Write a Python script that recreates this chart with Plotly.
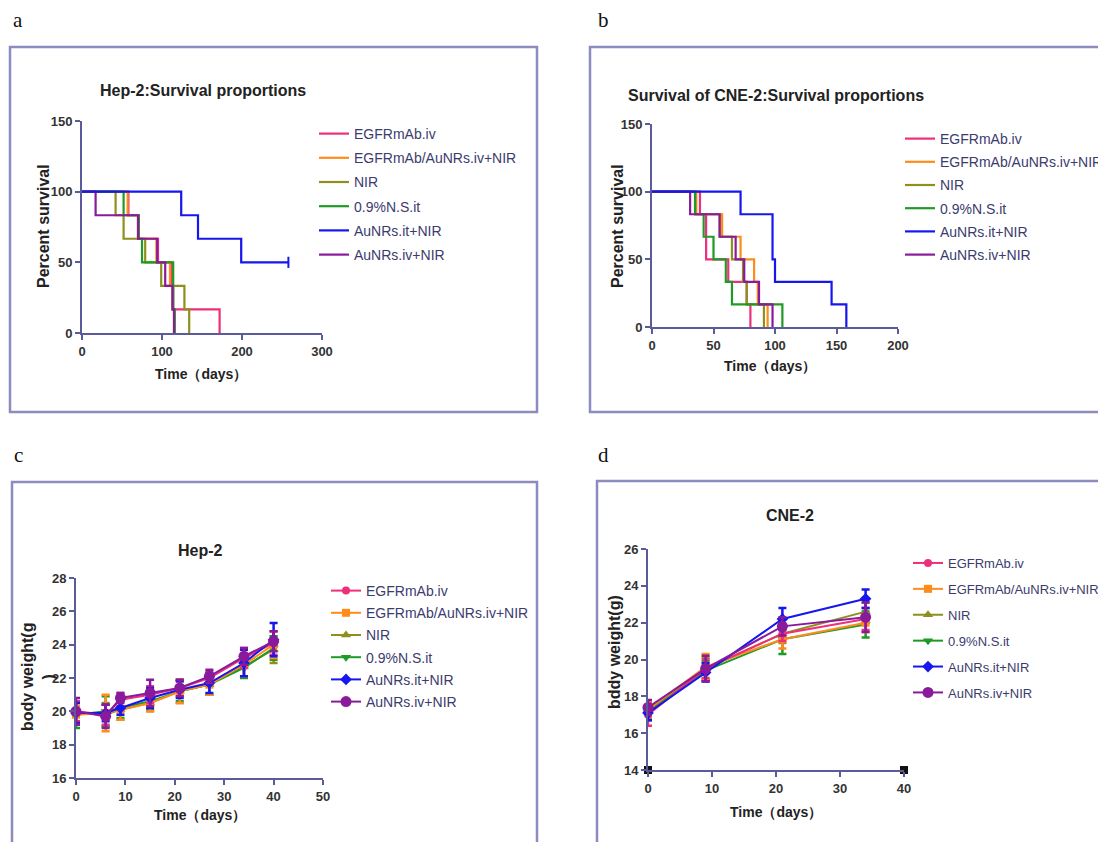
import plotly.graph_objects as go

# page body has an 8px margin, so the figure is made 8px smaller on each axis and
# all target pixel positions are shifted by that offset
OFF = 8
W, H = 1106 - OFF, 842 - OFF

GROUPS = ["EGFRmAb.iv", "EGFRmAb/AuNRs.iv+NIR", "NIR", "0.9%N.S.it", "AuNRs.it+NIR", "AuNRs.iv+NIR"]
COLORS = ["#ee2f7c", "#ff8c1a", "#8f8f1c", "#1f9a24", "#1616ee", "#8a1a9c"]
SYMBOLS = ["circle", "square", "triangle-up", "triangle-down", "diamond", "circle"]
MSIZES = [8, 8, 9, 9, 9, 11]

# ---------- Panel a: Hep-2 survival (days, percent) ----------
A_T_EGFR = [0, 58, 71, 95, 112, 114, 172]
A_S_EGFR = [100, 83.3, 66.7, 50, 33.3, 16.7, 0]
A_T_EGFRAU = [0, 57, 70, 93, 110, 113, 115]
A_S_EGFRAU = [100, 83.3, 66.7, 50, 33.3, 16.7, 0]
A_T_NIR = [0, 42, 52, 79, 99, 128, 134]
A_S_NIR = [100, 83.3, 66.7, 50, 33.3, 16.7, 0]
A_T_NS = [0, 52, 71, 75, 114, 116]
A_S_NS = [100, 83.3, 66.7, 50, 16.7, 0]
A_T_AUIT = [0, 124, 145, 199, 258]
A_S_AUIT = [100, 83.3, 66.7, 50, 50]
A_T_AUIV = [0, 17, 70, 94, 104, 113, 115]
A_S_AUIV = [100, 83.3, 66.7, 50, 33.3, 16.7, 0]

# ---------- Panel b: CNE-2 survival ----------
B_T_EGFR = [0, 39, 44, 62, 77, 80]
B_S_EGFR = [100, 83.3, 50, 33.3, 16.7, 0]
B_T_EGFRAU = [0, 36, 57, 72, 83, 86, 94]
B_S_EGFRAU = [100, 83.3, 66.7, 50, 33.3, 16.7, 0]
B_T_NIR = [0, 35, 55, 65, 74, 77, 91]
B_S_NIR = [100, 83.3, 66.7, 50, 33.3, 16.7, 0]
B_T_NS = [0, 35, 42, 50, 60, 65, 106]
B_S_NS = [100, 83.3, 66.7, 50, 33.3, 16.7, 0]
B_T_AUIT = [0, 72, 98, 100, 146, 158]
B_S_AUIT = [100, 83.3, 50, 33.3, 16.7, 0]
B_T_AUIV = [0, 31, 55, 68, 75, 87, 98]
B_S_AUIV = [100, 83.3, 66.7, 50, 33.3, 16.7, 0]

# ---------- Panel c: Hep-2 body weight ----------
C_DAYS = [0, 6, 9, 15, 21, 27, 34, 40]
C_EGFR = [20.0, 19.8, 20.7, 21.0, 21.4, 22.0, 23.2, 24.1]
C_EGFR_E = [0.6, 0.6, 0.4, 0.5, 0.5, 0.4, 0.6, 0.7]
C_EGFRAU = [19.8, 19.9, 20.1, 20.5, 21.2, 21.6, 22.8, 24.0]
C_EGFRAU_E = [0.5, 1.1, 0.6, 0.5, 0.7, 0.6, 0.7, 0.8]
C_NIR = [19.9, 19.8, 20.1, 20.5, 21.2, 21.6, 22.7, 23.7]
C_NIR_E = [0.6, 0.7, 0.6, 0.5, 0.7, 0.6, 0.6, 0.8]
C_NS = [19.8, 20.0, 20.2, 20.6, 21.2, 21.6, 22.6, 23.8]
C_NS_E = [0.8, 0.9, 0.6, 0.5, 0.6, 0.6, 0.6, 0.7]
C_AUIT = [19.9, 19.9, 20.2, 20.8, 21.3, 21.7, 22.9, 24.3]
C_AUIT_E = [0.6, 0.5, 0.4, 0.6, 0.5, 0.6, 0.8, 1.0]
C_AUIV = [20.0, 19.7, 20.8, 21.1, 21.4, 22.1, 23.3, 24.2]
C_AUIV_E = [0.8, 0.7, 0.3, 0.8, 0.5, 0.4, 0.5, 0.6]

# ---------- Panel d: CNE-2 body weight ----------
D_DAYS = [0, 9, 21, 34]
D_EGFR = [17.0, 19.5, 21.4, 22.2]
D_EGFR_E = [0.6, 0.5, 0.4, 0.6]
D_EGFRAU = [17.3, 19.6, 21.1, 22.0]
D_EGFRAU_E = [0.4, 0.7, 0.5, 0.5]
D_NIR = [17.2, 19.5, 21.4, 22.6]
D_NIR_E = [0.4, 0.6, 0.5, 0.5]
D_NS = [17.1, 19.4, 21.1, 21.9]
D_NS_E = [0.4, 0.5, 0.8, 0.7]
D_AUIT = [17.1, 19.3, 22.2, 23.3]
D_AUIT_E = [0.4, 0.5, 0.6, 0.5]
D_AUIV = [17.4, 19.5, 21.8, 22.3]
D_AUIV_E = [0.4, 0.7, 0.5, 0.8]
D_CORNER_X = [0, 40]
D_CORNER_Y = [14, 14]

A_T = [A_T_EGFR, A_T_EGFRAU, A_T_NIR, A_T_NS, A_T_AUIT, A_T_AUIV]
A_S = [A_S_EGFR, A_S_EGFRAU, A_S_NIR, A_S_NS, A_S_AUIT, A_S_AUIV]
B_T = [B_T_EGFR, B_T_EGFRAU, B_T_NIR, B_T_NS, B_T_AUIT, B_T_AUIV]
B_S = [B_S_EGFR, B_S_EGFRAU, B_S_NIR, B_S_NS, B_S_AUIT, B_S_AUIV]
C_Y = [C_EGFR, C_EGFRAU, C_NIR, C_NS, C_AUIT, C_AUIV]
C_E = [C_EGFR_E, C_EGFRAU_E, C_NIR_E, C_NS_E, C_AUIT_E, C_AUIV_E]
D_Y = [D_EGFR, D_EGFRAU, D_NIR, D_NS, D_AUIT, D_AUIV]
D_E = [D_EGFR_E, D_EGFRAU_E, D_NIR_E, D_NS_E, D_AUIT_E, D_AUIV_E]


def px(x):
    return (x - OFF) / W


def py(y):
    return 1 - (y - OFF) / H


NARROW = "Liberation Sans Narrow, Arial Narrow, Liberation Sans, Arial, sans-serif"
AXCOL = "#5b5b9c"
TXT = "#333333"
LEGTXT = "#3b3b6e"

fig = go.Figure()

# survival traces
order = [0, 1, 2, 3, 5, 4]
for panel, T, S, xa, ya, leg in [("a", A_T, A_S, "x", "y", "legend"), ("b", B_T, B_S, "x2", "y2", "legend2")]:
    for i in order:
        fig.add_trace(go.Scatter(
            x=T[i], y=S[i], mode="lines", line=dict(color=COLORS[i], width=2.2, shape="hv"),
            name=GROUPS[i], xaxis=xa, yaxis=ya, legend=leg, legendgroup=panel + str(i),
            legendrank=i + 1, cliponaxis=False))
# censor tick for AuNRs.it+NIR in panel a
fig.add_trace(go.Scatter(x=[A_T_AUIT[-1]], y=[A_S_AUIT[-1]], mode="markers",
                         marker=dict(symbol="line-ns-open", size=8, color=COLORS[4],
                                     line=dict(color=COLORS[4], width=2)),
                         xaxis="x", yaxis="y", showlegend=False, cliponaxis=False))

# body weight traces
for panel, X, Y, E, xa, ya, leg in [("c", C_DAYS, C_Y, C_E, "x3", "y3", "legend3"),
                                    ("d", D_DAYS, D_Y, D_E, "x4", "y4", "legend4")]:
    for i in [2, 3, 1, 0, 4, 5]:
        fig.add_trace(go.Scatter(
            x=X, y=Y[i], mode="lines+markers", name=GROUPS[i],
            line=dict(color=COLORS[i], width=2),
            marker=dict(symbol=SYMBOLS[i], size=MSIZES[i], color=COLORS[i]),
            error_y=dict(type="data", array=E[i], color=COLORS[i], thickness=2.5, width=4),
            xaxis=xa, yaxis=ya, legend=leg, legendgroup=panel + str(i), legendrank=i + 1,
            cliponaxis=False))

fig.add_trace(go.Scatter(x=D_CORNER_X, y=D_CORNER_Y, mode="markers",
                         marker=dict(symbol="square", size=8, color="#111111"),
                         xaxis="x4", yaxis="y4", showlegend=False, cliponaxis=False))


def axis(dom_px, rng, dtick, anchor, horizontal):
    if horizontal:
        dom = [px(dom_px[0]), px(dom_px[1])]
    else:
        dom = [py(dom_px[1]), py(dom_px[0])]
    return dict(domain=dom, range=rng, dtick=dtick, tick0=rng[0], anchor=anchor,
                showline=True, linecolor=AXCOL, linewidth=2, ticks="outside", ticklen=5,
                tickcolor=AXCOL, tickwidth=2, showgrid=False, zeroline=False,
                tickfont=dict(family=NARROW, size=13, color=TXT, weight="bold"),
                fixedrange=True, automargin=False)


def legend_at(x, y, gap, size=14):
    return dict(x=px(x), y=py(y), font=dict(family=NARROW, size=size, color=LEGTXT),
                bgcolor="rgba(0,0,0,0)", tracegroupgap=gap, xanchor="left", yanchor="top",
                itemwidth=30, traceorder="grouped")


fig.update_layout(
    width=W, height=H, margin=dict(l=0, r=0, t=0, b=0, pad=0, autoexpand=False),
    paper_bgcolor="white", plot_bgcolor="white",
    xaxis=axis([82, 322], [0, 300], 100, "y", True),
    yaxis=axis([121, 333], [0, 150], 50, "x", False),
    xaxis2=axis([652, 898], [0, 200], 50, "y2", True),
    yaxis2=axis([124, 327], [0, 150], 50, "x2", False),
    xaxis3=axis([76, 323], [0, 50], 10, "y3", True),
    yaxis3=axis([578, 778], [16, 28], 2, "x3", False),
    xaxis4=axis([648, 904], [0, 40], 10, "y4", True),
    yaxis4=axis([549, 770], [14, 26], 2, "x4", False),
    legend=legend_at(314, 118, 3),
    legend2=legend_at(900, 123, 2),
    legend3=legend_at(326, 575, 1),
    legend4=legend_at(908, 548, 6, 13),
)

# panel boxes
BOX = "#8c8cc0"
for (x0, y0, x1, y1) in [(10, 47, 537, 412), (590, 47, 1110, 412), (12, 482, 537, 850), (597, 481, 1110, 850)]:
    fig.add_shape(type="rect", xref="paper", yref="paper", x0=px(x0), y0=py(y1), x1=px(x1), y1=py(y0),
                  line=dict(color=BOX, width=2.5), fillcolor="rgba(0,0,0,0)", layer="below")

ann = []
# panel letters
for t, x, y in [("a", 18, 20), ("b", 603, 20), ("c", 18, 455), ("d", 603, 455)]:
    ann.append(dict(text=t, x=px(x), y=py(y), xref="paper", yref="paper", showarrow=False,
                    xanchor="center", yanchor="middle",
                    font=dict(family="Liberation Serif, Times New Roman, serif", size=21, color="#111")))
# titles
TF = dict(family=NARROW, size=16, color="#222", weight="bold")
for t, x, y in [("Hep-2:Survival proportions", 203, 90), ("Survival of CNE-2:Survival proportions", 776, 95),
                ("Hep-2", 200, 550), ("CNE-2", 790, 515)]:
    ann.append(dict(text=t, x=px(x), y=py(y), xref="paper", yref="paper", showarrow=False,
                    xanchor="center", yanchor="middle", font=TF))
# axis titles
AF = dict(family=NARROW, size=14, color="#222", weight="bold")
for t, x, y in [("Time（days）", 201, 374), ("Time（days）", 770, 366),
                ("Time（days）", 200, 815), ("Time（days）", 776, 812)]:
    ann.append(dict(text=t, x=px(x), y=py(y), xref="paper", yref="paper", showarrow=False,
                    xanchor="center", yanchor="middle", font=AF))
YF = dict(family=NARROW, size=16, color="#222", weight="bold")
for t, x, y in [("Percent survival", 44, 226), ("Percent survival", 618, 226),
                ("body weight(g<br>)", 38, 677), ("bddy weight(g)", 614, 652)]:
    ann.append(dict(text=t, x=px(x), y=py(y), xref="paper", yref="paper", showarrow=False,
                    xanchor="center", yanchor="middle", textangle=-90, font=YF))
fig.update_layout(annotations=ann)

fig.write_html("out.html")
